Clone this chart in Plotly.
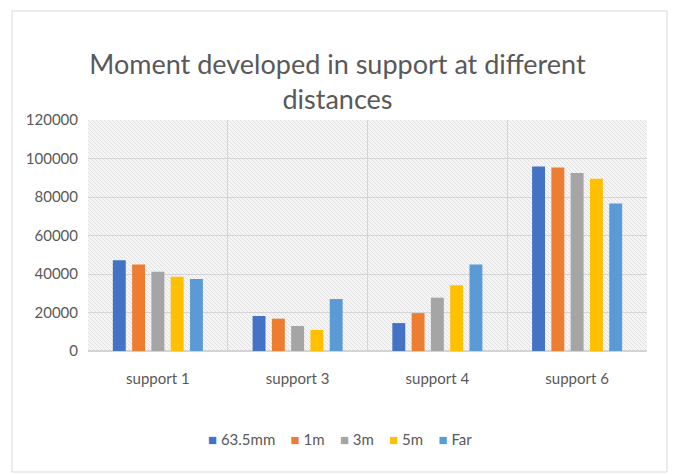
import base64
import plotly.graph_objects as go

# Support locations and the distance of the load from each support
categories = ["support 1", "support 3", "support 4", "support 6"]
series_names = ["63.5mm", "1m", "3m", "5m", "Far"]
moment_635mm = [47200, 18200, 14500, 95900]
moment_1m = [45000, 16800, 19700, 95300]
moment_3m = [41200, 13000, 27700, 92500]
moment_5m = [38600, 10900, 34100, 89500]
moment_far = [37400, 27000, 44900, 76600]
y_ticks = [0, 20000, 40000, 60000, 80000, 100000, 120000]

series_values = [moment_635mm, moment_1m, moment_3m, moment_5m, moment_far]
colors = ["#4472C4", "#ED7D31", "#A5A5A5", "#FFC000", "#5B9BD5"]

FONT = "Lato, sans-serif"
TEXT_COLOR = "#595959"

fig = go.Figure()
for name, vals, col in zip(series_names, series_values, colors):
    fig.add_trace(go.Bar(name=name, x=categories, y=vals, marker_color=col,
                         marker_line_width=0, showlegend=False))

# Diagonal hatch fill behind the plot area
svg = (
    '<svg xmlns="http://www.w3.org/2000/svg" width="559" height="231">'
    '<defs><pattern id="h" width="4" height="4" patternUnits="userSpaceOnUse">'
    '<rect width="4" height="4" fill="#f5f5f5"/>'
    '<path d="M-1,-1 L5,5 M-1,3 L1,5 M3,-1 L5,1" stroke="#e0e0e0" stroke-width="1"/>'
    '</pattern></defs>'
    '<rect width="559" height="231" fill="url(#h)"/></svg>'
)
uri = "data:image/svg+xml;base64," + base64.b64encode(svg.encode()).decode()
fig.add_layout_image(source=uri, xref="paper", yref="paper", x=0, y=1,
                     sizex=1, sizey=1, sizing="stretch", xanchor="left",
                     yanchor="top", layer="below")

# Chart frame
fig.add_shape(type="rect", xref="paper", yref="paper",
              x0=(12 - 88) / 559, x1=(667 - 88) / 559,
              y0=(351 - 472) / 231, y1=(351 - 11) / 231,
              line=dict(color="#d9d9d9", width=1), fillcolor="rgba(0,0,0,0)",
              layer="below")

# Compact legend row: coloured squares followed by the series names
legend_text = "&nbsp;&nbsp;&nbsp;&nbsp;".join(
    f'<span style="color:{c}">■</span>&nbsp;{n}'
    for n, c in zip(series_names, colors)
)
fig.add_annotation(text=legend_text, xref="paper", yref="paper",
                   x=(340 - 88) / 559, y=(351 - 439) / 231,
                   xanchor="center", yanchor="middle", showarrow=False,
                   font=dict(family=FONT, size=15, color=TEXT_COLOR))

fig.update_layout(
    width=675, height=475,
    margin=dict(l=88, r=28, t=120, b=124),
    paper_bgcolor="white", plot_bgcolor="rgba(0,0,0,0)",
    barmode="group", bargap=0.31, bargroupgap=0.33,
    title=dict(text="Moment developed in support at different<br>distances",
               x=0.5, xanchor="center", y=1 - 74 / 475, yanchor="middle",
               xref="container", yref="container",
               font=dict(family=FONT, size=27, color=TEXT_COLOR)),
    font=dict(family=FONT, color=TEXT_COLOR),
    showlegend=False,
)
fig.update_yaxes(range=[0, 120000], tickvals=y_ticks,
                 ticktext=[str(v) for v in y_ticks],
                 showgrid=True, gridcolor="#d4d4d4", gridwidth=1,
                 zeroline=True, zerolinecolor="#d4d4d4",
                 tickfont=dict(family=FONT, size=15, color=TEXT_COLOR),
                 ticks="", ticklabelstandoff=9)
fig.update_xaxes(showgrid=True, gridcolor="#d4d4d4", tickson="boundaries",
                 ticks="", showline=False,
                 tickfont=dict(family=FONT, size=15, color=TEXT_COLOR),
                 ticklabelstandoff=17)

fig.write_html("out.html")
